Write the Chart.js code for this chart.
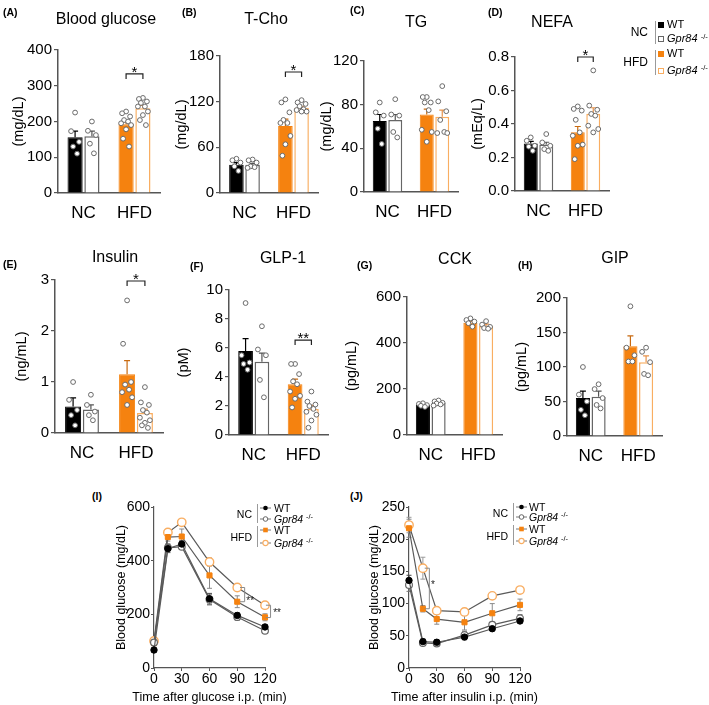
<!DOCTYPE html>
<html><head><meta charset="utf-8">
<script src="https://cdn.jsdelivr.net/npm/chart.js@4.4.1/dist/chart.umd.min.js"></script>
<style>
html,body{margin:0;padding:0;background:#fff;}
body{width:709px;height:705px;overflow:hidden;position:relative;font-family:'Liberation Sans',Arial,Helvetica,sans-serif;color:#000;}
canvas{position:absolute;}
.t{position:absolute;white-space:nowrap;}
.sup{font-size:0.7em;position:relative;top:-0.45em;font-style:normal;}
.sq{position:absolute;width:6px;height:6px;box-sizing:border-box;}
.vl{position:absolute;width:1px;background:#9a9a9a;}
</style></head><body>
<script>
// ---------------- DATA ----------------
const groups = ['NC', 'HFD'];

// (A) Blood glucose (mg/dL)
const glucoseWT = [156, 192];
const glucoseKO = [159, 237];
const glucoseSemWT = [17, 10];
const glucoseSemKO = [14, 8];
const glucoseNcWT = [225, 173, 143, 130, 110];
const glucoseNcKO = [200, 174, 162, 138, 111];
const glucoseHfdWT = [228, 223, 214, 204, 200, 195, 190, 178, 152, 130];
const glucoseHfdKO = [266, 263, 256, 252, 242, 242, 228, 218, 204, 190];

// (B) T-Cho (mg/dL)
const tchoWT = [37, 88];
const tchoKO = [37, 112];
const tchoSemWT = [3, 9];
const tchoSemKO = [2, 2];
const tchoNcWT = [45, 43, 40, 35, 29];
const tchoNcKO = [44, 43, 40, 35, 34, 33];
const tchoHfdWT = [123, 119, 106, 96, 92, 92, 75, 64, 49];
const tchoHfdKO = [122, 119, 117, 114, 110, 109, 107, 107];

// (C) TG (mg/dL)
const tgWT = [65, 71];
const tgKO = [66, 69];
const tgSemWT = [6, 5];
const tgSemKO = [5, 6];
const tgNcWT = [82, 73, 70, 58, 44];
const tgNcKO = [85, 71, 70, 55, 50];
const tgHfdWT = [87, 87, 82, 82, 75, 57, 55, 46];
const tgHfdKO = [97, 83, 74, 66, 55, 54, 54];

// (D) NEFA (mEq/L)
const nefaWT = [0.284, 0.351];
const nefaKO = [0.277, 0.461];
const nefaSemWT = [0.012, 0.034];
const nefaSemKO = [0.014, 0.036];
const nefaNcWT = [0.32, 0.30, 0.27, 0.265, 0.24];
const nefaNcKO = [0.34, 0.29, 0.27, 0.25, 0.24];
const nefaHfdWT = [0.505, 0.49, 0.48, 0.425, 0.35, 0.33, 0.277, 0.27, 0.19];
const nefaHfdKO = [0.72, 0.51, 0.485, 0.46, 0.45, 0.39, 0.37, 0.35];

// (E) Insulin (ng/mL)
const insWT = [0.52, 1.15];
const insKO = [0.46, 0.39];
const insSemWT = [0.17, 0.27];
const insSemKO = [0.09, 0.08];
const insNcWT = [1.0, 0.65, 0.45, 0.35, 0.15];
const insNcKO = [0.75, 0.55, 0.42, 0.35, 0.25];
const insHfdWT = [2.6, 1.75, 1.0, 0.95, 0.85, 0.8, 0.7, 0.55];
const insHfdKO = [0.9, 0.6, 0.55, 0.45, 0.4, 0.3, 0.25, 0.2, 0.15, 0.1];

// (F) GLP-1 (pM)
const glpWT = [5.8, 3.5];
const glpKO = [5.05, 1.8];
const glpSemWT = [0.85, 0.35];
const glpSemKO = [0.6, 0.25];
const glpNcWT = [9.1, 5.5, 5.0, 4.9, 4.5];
const glpNcKO = [7.5, 5.9, 5.5, 3.8, 2.6];
const glpHfdWT = [4.9, 4.9, 4.2, 3.7, 3.5, 3.0, 2.7, 2.5, 1.9];
const glpHfdKO = [3.0, 2.3, 2.1, 2.0, 1.8, 1.6, 1.4, 1.0, 0.5];

// (G) CCK (pg/mL)
const cckWT = [130, 488];
const cckKO = [139, 474];
const cckSemWT = [4, 7];
const cckSemKO = [4, 8];
const cckNcWT = [138, 135, 130, 127, 122];
const cckNcKO = [150, 146, 140, 137, 133, 128];
const cckHfdWT = [507, 500, 493, 486, 471];
const cckHfdKO = [495, 480, 470, 465, 462];

// (H) GIP (pg/mL)
const gipWT = [55, 130];
const gipKO = [57, 107];
const gipSemWT = [10, 15];
const gipSemKO = [8, 9];
const gipNcWT = [100, 60, 50, 38, 30];
const gipNcKO = [75, 68, 55, 45, 40];
const gipHfdWT = [188, 128, 117, 108, 108];
const gipHfdKO = [128, 122, 107, 90, 88];

// (I) IPGTT and (J) ITT, blood glucose (mg/dL)
const timeMin = [0, 15, 30, 60, 90, 120];
const gttNcWT = [67, 445, 462, 258, 196, 153];
const gttNcKO = [95, 448, 452, 255, 190, 139];
const gttHfdWT = [93, 488, 490, 345, 247, 189];
const gttHfdKO = [101, 505, 543, 395, 300, 234];
const gttSemNcWT = [8, 15, 12, 20, 10, 8];
const gttSemNcKO = [10, 15, 10, 20, 12, 8];
const gttSemHfdWT = [10, 15, 28, 48, 22, 13];
const gttSemHfdKO = [8, 10, 10, 15, 12, 10];

const ittNcWT = [136, 41, 40, 48, 61, 73];
const ittNcKO = [129, 39, 38, 51, 67, 77];
const ittHfdWT = [217, 92, 76, 71, 85, 98];
const ittHfdKO = [222, 155, 89, 87, 112, 121];
const ittSemNcWT = [8, 4, 4, 4, 3, 3];
const ittSemNcKO = [10, 4, 4, 6, 4, 6];
const ittSemHfdWT = [14, 5, 8, 12, 15, 9];
const ittSemHfdKO = [12, 17, 5, 5, 5, 4];

// ---------------- STYLE ----------------
const ORANGE = '#F5820F', LORANGE = '#F9AE62', AX = '#555';
const FONT = "'Liberation Sans', Arial, sans-serif";
Chart.defaults.font.family = FONT;
Chart.defaults.color = '#000';
const JIT = [0, -4, 4, -2, 2, -5, 5, 0, -3, 3, -1, 1];

function T(x, y, html, o) {
  const d = document.createElement('div');
  d.className = 't';
  d.innerHTML = html;
  const s = o.size;
  d.style.fontSize = s + 'px';
  d.style.lineHeight = (s * 1.2) + 'px';
  d.style.top = (y - s * 0.6) + 'px';
  if (o.align === 'right') d.style.right = (709 - x) + 'px';
  else if (o.align === 'center') { d.style.left = (x - 150) + 'px'; d.style.width = '300px'; d.style.textAlign = 'center'; }
  else d.style.left = x + 'px';
  if (o.bold) d.style.fontWeight = 'bold';
  document.body.appendChild(d);
}

function makeBarExtras(sig) {
  return {
    id: 'barExtras',
    afterDatasetsDraw(chart) {
      const ctx = chart.ctx, ys = chart.scales.y;
      chart.data.datasets.forEach((ds, di) => {
        const meta = chart.getDatasetMeta(di);
        meta.data.forEach((bar, i) => {
          const yTop = ys.getPixelForValue(ds.data[i]);
          const yErr = ys.getPixelForValue(ds.data[i] + ds.errors[i]);
          ctx.save();
          ctx.strokeStyle = ds.errColor[i]; ctx.lineWidth = 1.2;
          ctx.beginPath(); ctx.moveTo(bar.x, yTop); ctx.lineTo(bar.x, yErr);
          ctx.moveTo(bar.x - 3, yErr); ctx.lineTo(bar.x + 3, yErr); ctx.stroke();
          ds.points[i].forEach((v, k) => {
            ctx.beginPath();
            ctx.arc(bar.x + JIT[k % JIT.length], ys.getPixelForValue(v), 2.4, 0, Math.PI * 2);
            ctx.fillStyle = '#fff'; ctx.fill();
            ctx.lineWidth = 1; ctx.strokeStyle = '#6a6a6a'; ctx.stroke();
          });
          ctx.restore();
        });
      });
      if (sig) {
        const m0 = chart.getDatasetMeta(0).data[1], m1 = chart.getDatasetMeta(1).data[1];
        const y = ys.getPixelForValue(sig.y);
        ctx.save();
        ctx.strokeStyle = '#222'; ctx.lineWidth = 1.2;
        ctx.beginPath(); ctx.moveTo(m0.x, y + 5); ctx.lineTo(m0.x, y); ctx.lineTo(m1.x, y); ctx.lineTo(m1.x, y + 5); ctx.stroke();
        ctx.fillStyle = '#000'; ctx.font = '15px ' + FONT; ctx.textAlign = 'center'; ctx.textBaseline = 'alphabetic';
        ctx.fillText(sig.text, (m0.x + m1.x) / 2, y + 3);
        ctx.restore();
      }
    }
  };
}

function makeBar(p) {
  const PT = 22, PR = 6, HX = 30;
  const Wy = Math.round(p.yDist + 0.6 * 14.5);
  const cv = document.createElement('canvas');
  const w = Wy + (p.right - p.axis) + PR;
  const h = PT + (p.bottom - p.top) + HX;
  cv.width = w; cv.height = h;
  cv.style.left = (p.axis - Wy) + 'px';
  cv.style.top = (p.top - PT) + 'px';
  cv.style.width = w + 'px'; cv.style.height = h + 'px';
  document.body.appendChild(cv);
  new Chart(cv, {
    type: 'bar',
    data: {
      labels: groups,
      datasets: [
        { label: 'WT', data: p.wt, backgroundColor: ['#000', ORANGE], borderColor: ['#000', ORANGE], borderWidth: 1,
          errors: p.semWT, errColor: ['#000', '#c86a10'], points: [p.pts[0], p.pts[2]] },
        { label: 'Gpr84 -/-', data: p.ko, backgroundColor: ['#fff', '#fff'], borderColor: ['#666', LORANGE], borderWidth: 1.5,
          errors: p.semKO, errColor: ['#555', '#e8934a'], points: [p.pts[1], p.pts[3]] }
      ]
    },
    options: {
      responsive: false, animation: false, devicePixelRatio: 1,
      layout: { padding: { top: PT, right: PR, left: 0, bottom: 0 } },
      datasets: { bar: { categoryPercentage: 0.66, barPercentage: 0.9 } },
      plugins: { legend: { display: false }, tooltip: { enabled: false } },
      scales: {
        x: {
          grid: { display: false },
          border: { color: AX, width: 1.5 },
          ticks: { font: { size: 17 }, color: '#000', padding: 2, maxRotation: 0, minRotation: 0, autoSkip: false },
          afterFit: s => { s.height = HX; }
        },
        y: {
          min: 0, max: p.max,
          ticks: { stepSize: p.step, font: { size: 15 }, color: '#000', padding: 2,
            callback: v => p.dec ? v.toFixed(p.dec) : v },
          grid: { drawOnChartArea: false, drawTicks: true, tickLength: 4, color: AX, lineWidth: 1.2 },
          border: { color: AX, width: 1.5 },
          title: { display: true, text: p.yTitle, font: { size: 14.5 }, color: '#000', padding: 0 },
          afterFit: s => { s.width = Wy; }
        }
      }
    },
    plugins: [makeBarExtras(p.sig)]
  });
  T(p.tx, p.ty, p.title, { size: 16, align: 'center' });
  T(p.lx, p.ly, p.letter, { size: 10.5, bold: true });
}

const barPanels = [
  { title: 'Blood glucose', letter: '(A)', yTitle: '(mg/dL)', wt: glucoseWT, ko: glucoseKO, semWT: glucoseSemWT, semKO: glucoseSemKO,
    pts: [glucoseNcWT, glucoseNcKO, glucoseHfdWT, glucoseHfdKO], max: 400, step: 100, sig: { y: 333, text: '*' },
    axis: 58, right: 160, top: 50, bottom: 193, yDist: 39, tx: 106, ty: 19, lx: 3, ly: 12 },
  { title: 'T-Cho', letter: '(B)', yTitle: '(mg/dL)', wt: tchoWT, ko: tchoKO, semWT: tchoSemWT, semKO: tchoSemKO,
    pts: [tchoNcWT, tchoNcKO, tchoHfdWT, tchoHfdKO], max: 180, step: 60, sig: { y: 159, text: '*' },
    axis: 220, right: 318, top: 56, bottom: 193, yDist: 38, tx: 266, ty: 19, lx: 182, ly: 12 },
  { title: 'TG', letter: '(C)', yTitle: '(mg/dL)', wt: tgWT, ko: tgKO, semWT: tgSemWT, semKO: tgSemKO,
    pts: [tgNcWT, tgNcKO, tgHfdWT, tgHfdKO], max: 120, step: 40, sig: null,
    axis: 364, right: 458, top: 61, bottom: 192, yDist: 37, tx: 416, ty: 22, lx: 350, ly: 10 },
  { title: 'NEFA', letter: '(D)', yTitle: '(mEq/L)', wt: nefaWT, ko: nefaKO, semWT: nefaSemWT, semKO: nefaSemKO,
    pts: [nefaNcWT, nefaNcKO, nefaHfdWT, nefaHfdKO], max: 0.8, step: 0.2, dec: 1, sig: { y: 0.8, text: '*' },
    axis: 515, right: 609, top: 57, bottom: 191, yDist: 37, tx: 552, ty: 22, lx: 488, ly: 12 },
  { title: 'Insulin', letter: '(E)', yTitle: '(ng/mL)', wt: insWT, ko: insKO, semWT: insSemWT, semKO: insSemKO,
    pts: [insNcWT, insNcKO, insHfdWT, insHfdKO], max: 3, step: 1, sig: { y: 2.98, text: '*' },
    axis: 55, right: 163, top: 280, bottom: 433, yDist: 33, tx: 115, ty: 257, lx: 3, ly: 264 },
  { title: 'GLP-1', letter: '(F)', yTitle: '(pM)', wt: glpWT, ko: glpKO, semWT: glpSemWT, semKO: glpSemKO,
    pts: [glpNcWT, glpNcKO, glpHfdWT, glpHfdKO], max: 10, step: 2, sig: { y: 6.55, text: '**' },
    axis: 229, right: 328, top: 290, bottom: 435, yDist: 45, tx: 283, ty: 258, lx: 190, ly: 266 },
  { title: 'CCK', letter: '(G)', yTitle: '(pg/mL)', wt: cckWT, ko: cckKO, semWT: cckSemWT, semKO: cckSemKO,
    pts: [cckNcWT, cckNcKO, cckHfdWT, cckHfdKO], max: 600, step: 200, sig: null,
    axis: 407, right: 502, top: 297, bottom: 435, yDist: 55, tx: 455, ty: 259, lx: 357, ly: 265 },
  { title: 'GIP', letter: '(H)', yTitle: '(pg/mL)', wt: gipWT, ko: gipKO, semWT: gipSemWT, semKO: gipSemKO,
    pts: [gipNcWT, gipNcKO, gipHfdWT, gipHfdKO], max: 200, step: 50, sig: null,
    axis: 567, right: 662, top: 298, bottom: 436, yDist: 45, tx: 615, ty: 258, lx: 518, ly: 265 }
];
barPanels.forEach(makeBar);

// ---------------- LINE CHARTS ----------------
function makeLineExtras(brackets) {
  return {
    id: 'lineExtras',
    beforeDatasetsDraw(chart) {
      const ctx = chart.ctx, ys = chart.scales.y;
      chart.data.datasets.forEach((ds, di) => {
        const meta = chart.getDatasetMeta(di);
        ctx.save(); ctx.strokeStyle = ds.errColor; ctx.lineWidth = 1;
        meta.data.forEach((pt, i) => {
          const v = ds.data[i].y, e = ds.errors[i];
          const y1 = ys.getPixelForValue(v + e), y2 = ys.getPixelForValue(v - e);
          ctx.beginPath(); ctx.moveTo(pt.x, y1); ctx.lineTo(pt.x, y2);
          ctx.moveTo(pt.x - 2.5, y1); ctx.lineTo(pt.x + 2.5, y1);
          ctx.moveTo(pt.x - 2.5, y2); ctx.lineTo(pt.x + 2.5, y2); ctx.stroke();
        });
        ctx.restore();
      });
    },
    afterDatasetsDraw(chart) {
      const ctx = chart.ctx, xs = chart.scales.x, ys = chart.scales.y;
      brackets.forEach(b => {
        const xv = xs.getPixelForValue(b.x), xa = xs.getPixelForValue(b.xArm);
        const ya = ys.getPixelForValue(b.y1), yb = ys.getPixelForValue(b.y2);
        ctx.save();
        ctx.strokeStyle = '#8a8a8a'; ctx.lineWidth = 1;
        ctx.beginPath(); ctx.moveTo(xa, ya); ctx.lineTo(xv, ya); ctx.lineTo(xv, yb); ctx.lineTo(xa, yb); ctx.stroke();
        ctx.fillStyle = '#222'; ctx.font = '10px ' + FONT; ctx.textAlign = 'center'; ctx.textBaseline = 'alphabetic';
        ctx.fillText(b.text, xs.getPixelForValue(b.tx), ys.getPixelForValue(b.ty) + 4);
        ctx.restore();
      });
    }
  };
}

function makeLine(p) {
  const PT = 12, PR = 28, HX = 37;
  const Wy = Math.round(p.yDist + 0.6 * 12.5);
  const cv = document.createElement('canvas');
  const w = Wy + (p.right - p.axis) + PR;
  const h = PT + (p.bottom - p.top) + HX;
  cv.width = w; cv.height = h;
  cv.style.left = (p.axis - Wy) + 'px';
  cv.style.top = (p.top - PT) + 'px';
  cv.style.width = w + 'px'; cv.style.height = h + 'px';
  document.body.appendChild(cv);
  const pts = arr => timeMin.map((t, i) => ({ x: t, y: arr[i] }));
  const common = { borderColor: '#5a5a5a', borderWidth: 1.2, clip: false, tension: 0 };
  new Chart(cv, {
    type: 'line',
    data: {
      datasets: [
        Object.assign({ label: 'NC WT', data: pts(p.ncWT), errors: p.semNcWT, errColor: '#444',
          pointStyle: 'circle', pointRadius: 3.2, pointBackgroundColor: '#000', pointBorderColor: '#000', pointBorderWidth: 1 }, common),
        Object.assign({ label: 'NC Gpr84 -/-', data: pts(p.ncKO), errors: p.semNcKO, errColor: '#777',
          pointStyle: 'circle', pointRadius: 3.4, pointBackgroundColor: '#fff', pointBorderColor: '#666', pointBorderWidth: 1.2 }, common),
        Object.assign({ label: 'HFD WT', data: pts(p.hfdWT), errors: p.semHfdWT, errColor: '#8a8a8a',
          pointStyle: 'rect', pointRadius: 3.6, pointBackgroundColor: ORANGE, pointBorderColor: ORANGE, pointBorderWidth: 1 }, common),
        Object.assign({ label: 'HFD Gpr84 -/-', data: pts(p.hfdKO), errors: p.semHfdKO, errColor: '#999',
          pointStyle: 'circle', pointRadius: 4.2, pointBackgroundColor: '#fff', pointBorderColor: LORANGE, pointBorderWidth: 1.4 }, common)
      ]
    },
    options: {
      responsive: false, animation: false, devicePixelRatio: 1,
      layout: { padding: { top: PT, right: PR, left: 0, bottom: 0 } },
      plugins: { legend: { display: false }, tooltip: { enabled: false } },
      scales: {
        x: {
          type: 'linear', min: 0, max: 120,
          ticks: { stepSize: 30, font: { size: 14 }, color: '#000', padding: 0, maxRotation: 0, minRotation: 0, autoSkip: false },
          grid: { drawOnChartArea: false, drawTicks: true, tickLength: 3, color: AX, lineWidth: 1 },
          border: { color: AX, width: 1.2 },
          afterFit: s => { s.height = HX; }
        },
        y: {
          min: 0, max: p.max,
          ticks: { stepSize: p.step, font: { size: 14 }, color: '#000', padding: 1, autoSkip: false },
          grid: { drawOnChartArea: false, drawTicks: true, tickLength: 3, color: AX, lineWidth: 1 },
          border: { color: AX, width: 1.2 },
          title: { display: true, text: 'Blood glucose (mg/dL)', font: { size: 12.5 }, color: '#000', padding: 0 },
          afterFit: s => { s.width = Wy; }
        }
      }
    },
    plugins: [makeLineExtras(p.brackets)]
  });
  T((p.axis + p.right) / 2, 697, p.xTitle, { size: 12.5, align: 'center' });
  T(p.lx, p.ly, p.letter, { size: 10.5, bold: true });
}

makeLine({ letter: '(I)', xTitle: 'Time after glucose i.p. (min)', ncWT: gttNcWT, ncKO: gttNcKO, hfdWT: gttHfdWT, hfdKO: gttHfdKO,
  semNcWT: gttSemNcWT, semNcKO: gttSemNcKO, semHfdWT: gttSemHfdWT, semHfdKO: gttSemHfdKO, max: 600, step: 200,
  brackets: [ { x: 98, xArm: 93, y1: 300, y2: 247, text: '**', tx: 104, ty: 252 },
              { x: 126, xArm: 121, y1: 234, y2: 188, text: '**', tx: 133, ty: 209 } ],
  axis: 154, right: 265, top: 507, bottom: 668, yDist: 32, lx: 92, ly: 496 });

makeLine({ letter: '(J)', xTitle: 'Time after insulin i.p. (min)', ncWT: ittNcWT, ncKO: ittNcKO, hfdWT: ittHfdWT, hfdKO: ittHfdKO,
  semNcWT: ittSemNcWT, semNcKO: ittSemNcKO, semHfdWT: ittSemHfdWT, semHfdKO: ittSemHfdKO, max: 250, step: 50,
  brackets: [ { x: 22, xArm: 17, y1: 155, y2: 92, text: '*', tx: 26, ty: 131 } ],
  axis: 409, right: 520, top: 507, bottom: 668, yDist: 34, lx: 350, ly: 496 });

// ---------------- LEGENDS ----------------
const KO_HTML = '<i>Gpr84</i> <span class="sup">-/-</span>';
function sq(x, y, fill, border) {
  const d = document.createElement('div');
  d.className = 'sq';
  d.style.left = (x - 3) + 'px'; d.style.top = (y - 3) + 'px';
  d.style.background = fill; d.style.border = '1px solid ' + border;
  document.body.appendChild(d);
}
function vl(x, y1, y2) {
  const d = document.createElement('div');
  d.className = 'vl';
  d.style.left = x + 'px'; d.style.top = y1 + 'px'; d.style.height = (y2 - y1) + 'px';
  document.body.appendChild(d);
}
// bar legend (top right)
T(648, 32, 'NC', { size: 12, align: 'right' });
vl(655, 21, 44);
sq(661, 24.5, '#000', '#000'); T(667, 24.5, 'WT', { size: 11 });
sq(661, 39, '#fff', '#666'); T(667, 39, KO_HTML, { size: 11 });
T(648, 62, 'HFD', { size: 12, align: 'right' });
vl(655, 50, 75);
sq(661, 54, ORANGE, ORANGE); T(667, 54, 'WT', { size: 11 });
sq(661, 70.5, '#fff', LORANGE); T(667, 70.5, KO_HTML, { size: 11 });

function marker(x, y, kind) {
  let shape = '';
  if (kind === 0) shape = '<circle cx="5.5" cy="4" r="2.3" fill="#000"/>';
  if (kind === 1) shape = '<circle cx="5.5" cy="4" r="2.3" fill="#fff" stroke="#666" stroke-width="1"/>';
  if (kind === 2) shape = '<rect x="3.2" y="1.7" width="4.6" height="4.6" fill="' + ORANGE + '"/>';
  if (kind === 3) shape = '<circle cx="5.5" cy="4" r="2.6" fill="#fff" stroke="' + LORANGE + '" stroke-width="1.1"/>';
  document.body.insertAdjacentHTML('beforeend',
    '<svg width="11" height="8" style="position:absolute;left:' + x + 'px;top:' + (y - 4) + 'px" xmlns="http://www.w3.org/2000/svg">' +
    '<line x1="0" y1="4" x2="11" y2="4" stroke="#777" stroke-width="1"/>' + shape + '</svg>');
}
function lineLegend(lab, sep, mx, tx, rows, ncY, hfdY) {
  T(lab, ncY, 'NC', { size: 10.5, align: 'right' });
  vl(sep, rows[0] - 4, rows[1] + 4);
  T(lab, hfdY, 'HFD', { size: 10.5, align: 'right' });
  vl(sep, rows[2] - 4, rows[3] + 4);
  [0, 1, 2, 3].forEach(k => {
    marker(mx, rows[k], k);
    T(tx, rows[k], k % 2 === 0 ? 'WT' : KO_HTML, { size: 10.5 });
  });
}
lineLegend(252, 257, 260, 274, [508, 519, 530, 543], 514, 537);
lineLegend(508, 513, 516, 529, [507, 517, 529, 541], 513, 536);
</script>
</body></html>
